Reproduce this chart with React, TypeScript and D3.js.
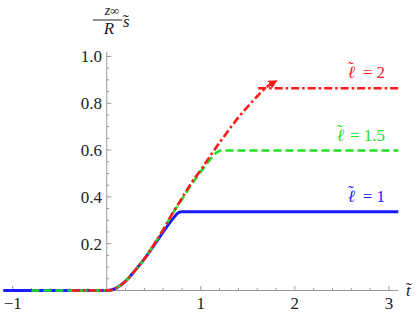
import React from "react"
import * as d3 from "d3"

// curve values: t~ and (z_inf/R) s~
const blueT = [-1.1, 0, 0.1, 0.2, 0.3, 0.4, 0.5, 0.6, 0.7, 0.76, 0.8, 3.1]
const blueS = [0, 0, 0.01, 0.04, 0.085, 0.135, 0.192, 0.25, 0.305, 0.332, 0.337, 0.337]

const greenT = [-0.8, 0, 0.1, 0.2, 0.3, 0.4, 0.5, 0.6, 0.7, 0.8, 0.9, 1.0, 1.1, 1.17, 1.22, 3.1]
const greenS = [0, 0, 0.01, 0.04, 0.085, 0.135, 0.195, 0.26, 0.328, 0.39, 0.452, 0.508, 0.56, 0.59, 0.598, 0.598]

const redT = [-0.37, 0, 0.1, 0.2, 0.3, 0.4, 0.5, 0.6, 0.7, 0.8, 0.9, 1.0, 1.1, 1.2, 1.3, 1.4, 1.5, 1.6, 1.7, 1.8]
const redS = [0, 0, 0.01, 0.04, 0.085, 0.135, 0.195, 0.26, 0.33, 0.395, 0.46, 0.515, 0.575, 0.632, 0.687, 0.74, 0.786, 0.83, 0.869, 0.895]
const redFlatT = [1.61, 3.1]
const redFlatS = [0.864, 0.864]

const xMajor = [-1, 1, 2, 3]
const yMajor = [0.2, 0.4, 0.6, 0.8, 1.0]

const labels = [
  { text: "2", s: 0.864, color: "#ff1a1a" },
  { text: "1.5", s: 0.598, color: "#22e022" },
  { text: "1", s: 0.337, color: "#1a1aff" },
]

const W = 415
const H = 313
const FONT = "'Liberation Serif'"

// italic letter with a small tilde drawn above it
const Tilded = ({ x, y, ch, size, color, lift, dx = 0 }: any) => (
  <g fill={color}>
    <text x={x} y={y} fontSize={size} style={{ fontFamily: FONT, fontStyle: "italic" }}>
      {ch}
    </text>
    <text x={x + dx} y={y - lift} fontSize={size} style={{ fontFamily: FONT }}>
      {"\u02dc"}
    </text>
  </g>
)

const App = () => {
  const x = d3.scaleLinear().domain([-1.1, 3.1]).range([3.3, 398.3])
  const y = d3.scaleLinear().domain([0, 1.02]).range([290.5, 51.8])
  const line = d3
    .line<[number, number]>()
    .x(d => x(d[0]))
    .y(d => y(d[1]))
    .curve(d3.curveMonotoneX)
  const zip = (ts: number[], ss: number[]) => ts.map((t, i) => [t, ss[i]] as [number, number])

  const xMinor = d3.range(-1, 3.01, 0.2).filter(v => Math.abs(v - Math.round(v)) > 0.01)
  const yMinor = d3.range(0.05, 1.01, 0.05).filter(v => Math.abs(v * 5 - Math.round(v * 5)) > 0.01)
  const axisColor = "#9a9a9a"
  const ts = { fontFamily: FONT }

  return (
    <svg width={W} height={H} style={{ position: "absolute", left: 0, top: 0, background: "#fff" }}>
      <defs>
        <marker id="arrow" viewBox="0 0 10 10" refX="8" refY="5" markerWidth="3.4" markerHeight="3.4" orient="auto" markerUnits="strokeWidth">
          <path d="M0,0 L10,5 L0,10 z" fill="#ff1a1a" />
        </marker>
      </defs>
      {/* axes */}
      <line x1={x(-1.1)} x2={x(3.1)} y1={y(0)} y2={y(0)} stroke={axisColor} strokeWidth={1} />
      <line x1={x(0)} x2={x(0)} y1={y(0)} y2={y(1.02)} stroke={axisColor} strokeWidth={1} />
      {xMajor.map(v => (
        <g key={"xm" + v}>
          <line x1={x(v)} x2={x(v)} y1={y(0)} y2={y(0) - 4.5} stroke={axisColor} />
          <text x={x(v)} y={309} fontSize={17} textAnchor="middle" fill="#222" style={ts}>
            {v < 0 ? "\u2212" + Math.abs(v) : v}
          </text>
        </g>
      ))}
      {xMinor.map(v => (
        <line key={"xn" + v} x1={x(v)} x2={x(v)} y1={y(0)} y2={y(0) - 2.5} stroke={axisColor} />
      ))}
      {yMajor.map(v => (
        <g key={"ym" + v}>
          <line x1={x(0)} x2={x(0) + 4.5} y1={y(v)} y2={y(v)} stroke={axisColor} />
          <text x={102} y={y(v) + 6} fontSize={17} textAnchor="end" fill="#222" style={ts}>
            {v.toFixed(1)}
          </text>
        </g>
      ))}
      {yMinor.map(v => (
        <line key={"yn" + v} x1={x(0)} x2={x(0) + 2.5} y1={y(v)} y2={y(v)} stroke={axisColor} />
      ))}

      {/* curves */}
      <path d={line(zip(blueT, blueS)) || ""} fill="none" stroke="#1a1aff" strokeWidth={3} />
      <path d={line(zip(greenT, greenS)) || ""} fill="none" stroke="#22e022" strokeWidth={2.6} strokeDasharray="8,4" />
      <path d={line(zip(redT, redS)) || ""} fill="none" stroke="#ff1a1a" strokeWidth={2.6} strokeDasharray="8,3,2.5,3" markerEnd="url(#arrow)" />
      <path d={line(zip(redFlatT, redFlatS)) || ""} fill="none" stroke="#ff1a1a" strokeWidth={2.6} strokeDasharray="8,3,2.5,3" />

      {/* series labels */}
      {labels.map(l => (
        <g key={l.text}>
          <text x={385} y={y(l.s) - 10} fontSize={17} textAnchor="end" fill={l.color} style={ts}>
            {"= " + l.text}
          </text>
          <Tilded
            x={385 - (l.text.length === 3 ? 33 : 22) - 15}
            y={y(l.s) - 10}
            ch={"\u2113"}
            size={17}
            color={l.color}
            lift={5}
            dx={0}
          />
        </g>
      ))}

      {/* axis titles */}
      <text x={112} y={15} fontSize={14} textAnchor="middle" fill="#222" style={ts}>
        <tspan fontStyle="italic">z</tspan>
        <tspan fontSize={13}>{"\u221e"}</tspan>
      </text>
      <line x1={93} x2={122} y1={20} y2={20} stroke="#222" strokeWidth={1} />
      <text x={109} y={34} fontSize={17} textAnchor="middle" fontStyle="italic" fill="#222" style={ts}>
        R
      </text>
      <Tilded x={123} y={27} ch="s" size={17} color="#222" lift={1} dx={0} />
      <Tilded x={406} y={296} ch="t" size={17} color="#222" lift={2} dx={0} />
    </svg>
  )
}

export default App
